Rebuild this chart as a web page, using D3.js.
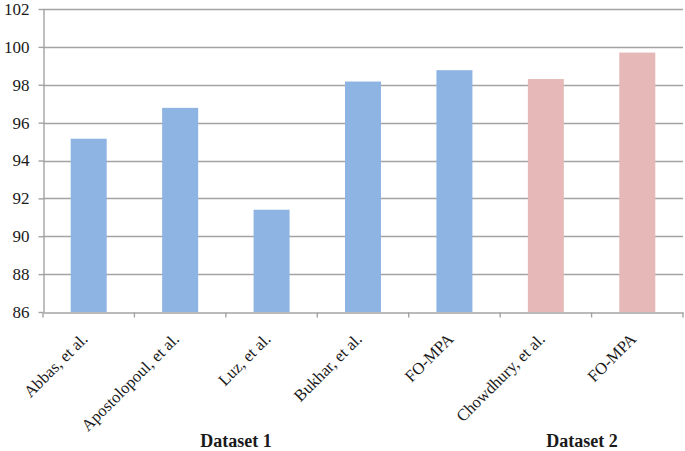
<!DOCTYPE html>
<html><head><meta charset="utf-8">
<script src="https://cdn.jsdelivr.net/npm/d3@7"></script>
<style>body{margin:0;background:#fff}svg{display:block}text{font-family:"Liberation Serif","Times New Roman",Times,"DejaVu Serif",serif !important;fill:#1a1a1a}</style>
</head><body><svg id="c" width="685" height="451"></svg>
<script>
const categories = ["Abbas, et al.","Apostolopoul, et al.","Luz, et al.","Bukhar, et al.","FO-MPA","Chowdhury, et al.","FO-MPA"];
const values = [95.15, 96.78, 91.4, 98.17, 98.77, 98.3, 99.7];
const datasetOf = [1,1,1,1,1,2,2];
const groupLabels = ["Dataset 1","Dataset 2"];
const yTicks = [86,88,90,92,94,96,98,100,102];
const colors = {1:"#8eb4e3", 2:"#e6b9b8"};

(function(){
const svg = d3.select("#c");
const mL = 43, mR = 683, mT = 9, mB = 312;
const xb = d3.scaleBand().domain(d3.range(categories.length)).range([mL, mR]);
const y = d3.scaleLinear().domain([86,102]).range([mB, mT]);

// gridlines
svg.append("g").selectAll("line").data(yTicks.slice(1)).join("line")
  .attr("x1", mL).attr("x2", mR).attr("y1", d=>Math.round(y(d))+0.5).attr("y2", d=>Math.round(y(d))+0.5)
  .attr("stroke", "#a3a3a3").attr("stroke-width", 1.4);

// bars
svg.append("g").selectAll("rect").data(values).join("rect")
  .attr("x", (d,i)=>xb(i)+xb.bandwidth()/2 - 18).attr("width", 36)
  .attr("y", d=>y(d)).attr("height", d=>y(86)-y(d))
  .attr("fill", (d,i)=>colors[datasetOf[i]]);

// y axis
const ya = svg.append("g").attr("transform", `translate(${mL+0.5},0)`)
  .call(d3.axisLeft(y).tickValues(yTicks).tickSize(5).tickPadding(9).tickSizeOuter(0));
ya.attr("font-family", null);
ya.select(".domain").attr("stroke", "#a3a3a3").attr("stroke-width", 1.4);
ya.selectAll(".tick line").attr("stroke", "#a3a3a3").attr("stroke-width", 1.4);
ya.selectAll("text").style("font-size", "17px").attr("fill", "#1a1a1a");

// x axis
const xa = svg.append("g").attr("transform", `translate(0,${Math.round(mB)+0.5})`)
  .call(d3.axisBottom(xb).tickValues([]).tickSizeOuter(0));
xa.select(".domain").attr("stroke", "#a3a3a3").attr("stroke-width", 1.4);
const boundaries = d3.range(categories.length + 1).map(i => mL + i * xb.step());
xa.selectAll(".bt").data(boundaries).join("line").attr("class","bt")
  .attr("x1", d=>d).attr("x2", d=>d).attr("y1", 0).attr("y2", 5)
  .attr("stroke", "#a3a3a3").attr("stroke-width", 1.4);

// category labels
svg.append("g").selectAll("text").data(categories).join("text")
  .attr("transform", (d,i)=>`translate(${xb(i)+xb.bandwidth()/2},${mB+28}) rotate(-45)`)
  .attr("text-anchor", "end").style("font-size", "16.5px").text(d=>d);

// group labels
const groupX = [236, 582];
svg.append("g").selectAll("text").data(groupLabels).join("text")
  .attr("x", (d,i)=>groupX[i]).attr("y", 447).attr("text-anchor", "middle")
  .style("font-size", "18px").attr("font-weight", "bold").text(d=>d);
})();
</script></body></html>
